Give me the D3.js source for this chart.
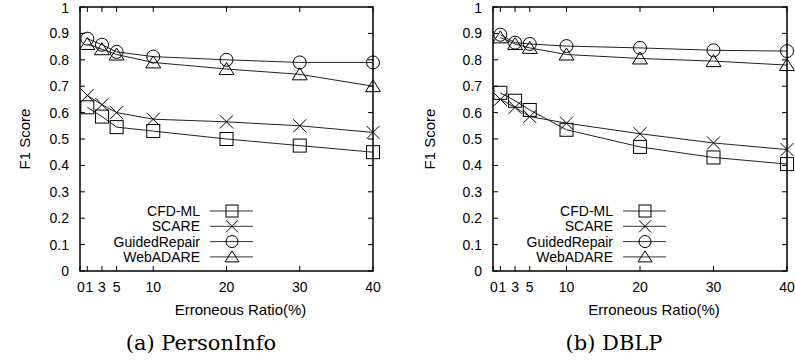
<!DOCTYPE html>
<html lang="en">
<head>
    <meta charset="UTF-8">
    <script src="https://d3js.org/d3.v7.min.js"></script>
    <title>F1 Score vs Erroneous Ratio</title>
    <style>
        body { margin: 0; background: #fff; }
        svg { display: block; font-family: "Liberation Sans", Arial, sans-serif; }
        .caption { font-family: "DejaVu Serif", "Liberation Serif", serif; }
    </style>
</head>
<body>
    <div id="chart"></div>

    <script type="text/javascript">
        // data
        const ratios = [1, 3, 5, 10, 20, 30, 40];
        const xTicks = [0, 1, 3, 5, 10, 20, 30, 40];
        const yTicks = [0, 0.1, 0.2, 0.3, 0.4, 0.5, 0.6, 0.7, 0.8, 0.9, 1];
        const seriesNames = ["CFD-ML", "SCARE", "GuidedRepair", "WebADARE"];
        const captions = ["(a) PersonInfo", "(b) DBLP"];

        const personCfdMl = [0.62, 0.585, 0.545, 0.53, 0.50, 0.475, 0.45];
        const personScare = [0.665, 0.63, 0.60, 0.575, 0.565, 0.55, 0.525];
        const personGuided = [0.88, 0.857, 0.83, 0.812, 0.80, 0.79, 0.79];
        const personWebAdare = [0.86, 0.84, 0.82, 0.79, 0.765, 0.745, 0.70];

        const dblpCfdMl = [0.675, 0.645, 0.61, 0.535, 0.47, 0.43, 0.405];
        const dblpScare = [0.65, 0.62, 0.585, 0.56, 0.52, 0.485, 0.46];
        const dblpGuided = [0.895, 0.865, 0.86, 0.852, 0.845, 0.836, 0.833];
        const dblpWebAdare = [0.885, 0.86, 0.845, 0.82, 0.805, 0.795, 0.78];

        const width = 795;
        const height = 362;

        const svg = d3.select("#chart")
            .append("svg")
            .attr("width", width)
            .attr("height", height);

        const panels = [
            { left: 80, right: 373, caption: captions[0], captionX: 201, yLabelX: 25,
              values: [personCfdMl, personScare, personGuided, personWebAdare] },
            { left: 493, right: 787, caption: captions[1], captionX: 614, yLabelX: 430,
              values: [dblpCfdMl, dblpScare, dblpGuided, dblpWebAdare] }
        ];
        const plotTop = 7;
        const plotBottom = 271;
        const markerSize = 13;
        const shapes = ["square", "cross", "circle", "triangle"];

        function drawMarker(g, shape, x, y, size) {
            const h = size / 2;
            if (shape === "square") {
                g.append("rect").attr("x", x - h).attr("y", y - h)
                    .attr("width", size).attr("height", size);
            } else if (shape === "circle") {
                g.append("circle").attr("cx", x).attr("cy", y).attr("r", h);
            } else if (shape === "triangle") {
                g.append("path").attr("d", `M${x},${y - h} L${x + h + 1},${y + h - 1} L${x - h - 1},${y + h - 1} Z`);
            } else {
                g.append("path").attr("d", `M${x - h},${y - h} L${x + h},${y + h} M${x - h},${y + h} L${x + h},${y - h}`);
            }
        }

        panels.forEach(p => {
            const x = d3.scaleLinear().domain([0, 40]).range([p.left, p.right]);
            const y = d3.scaleLinear().domain([0, 1]).range([plotBottom, plotTop]);
            const g = svg.append("g");

            // tick marks, inward on all four sides
            const ticks = g.append("g").attr("stroke", "#000").attr("stroke-width", 1);
            yTicks.forEach(t => {
                ticks.append("line").attr("x1", p.left).attr("x2", p.left + 5)
                    .attr("y1", y(t)).attr("y2", y(t));
                ticks.append("line").attr("x1", p.right).attr("x2", p.right - 5)
                    .attr("y1", y(t)).attr("y2", y(t));
            });
            xTicks.forEach(t => {
                ticks.append("line").attr("x1", x(t)).attr("x2", x(t))
                    .attr("y1", plotBottom).attr("y2", plotBottom - 5);
                ticks.append("line").attr("x1", x(t)).attr("x2", x(t))
                    .attr("y1", plotTop).attr("y2", plotTop + 5);
            });

            g.selectAll(".ylab")
                .data(yTicks)
                .enter()
                .append("text")
                .attr("x", p.left - 11)
                .attr("y", d => y(d) + (d === 1 ? 1 : 0))
                .attr("dy", "0.36em")
                .attr("text-anchor", "end")
                .style("font-size", "14px")
                .text(d => d3.format("~g")(d));

            g.selectAll(".xlab")
                .data(xTicks)
                .enter()
                .append("text")
                .attr("x", d => x(d) + (d === 0 ? 1 : d === 1 ? 2 : 0))
                .attr("y", 292)
                .attr("text-anchor", "middle")
                .style("font-size", "14px")
                .text(d => d);

            g.append("text")
                .attr("x", (p.left + p.right) / 2 + 14)
                .attr("y", 315)
                .attr("text-anchor", "middle")
                .style("font-size", "15px")
                .text("Erroneous Ratio(%)");

            g.append("text")
                .attr("transform", `translate(${p.yLabelX},${(plotTop + plotBottom) / 2}) rotate(-90)`)
                .attr("dy", "0.35em")
                .attr("text-anchor", "middle")
                .style("font-size", "15px")
                .text("F1 Score");

            g.append("text")
                .attr("class", "caption")
                .attr("x", p.captionX)
                .attr("y", 350)
                .attr("text-anchor", "middle")
                .style("font-size", "21px")
                .text(p.caption);

            // series
            const line = d3.line().x((d, i) => x(ratios[i])).y(d => y(d));
            p.values.forEach((vals, si) => {
                g.append("path")
                    .attr("d", line(vals))
                    .attr("fill", "none")
                    .attr("stroke", "#222")
                    .attr("stroke-width", 1);
                const mg = g.append("g").attr("fill", "none").attr("stroke", "#000").attr("stroke-width", 1);
                vals.forEach((v, i) => drawMarker(mg, shapes[si], x(ratios[i]), y(v), markerSize));
            });

            // legend
            const textRight = p.left + 120;
            seriesNames.forEach((name, si) => {
                const ly = 211 + si * 15.3;
                g.append("text")
                    .attr("x", textRight)
                    .attr("y", ly)
                    .attr("dy", "0.36em")
                    .attr("text-anchor", "end")
                    .style("font-size", "14px")
                    .text(name);
                g.append("line")
                    .attr("x1", textRight + 10).attr("x2", textRight + 53)
                    .attr("y1", ly).attr("y2", ly)
                    .attr("stroke", "#333").attr("stroke-width", 1);
                const mg = g.append("g").attr("fill", "none").attr("stroke", "#000").attr("stroke-width", 1);
                drawMarker(mg, shapes[si], textRight + 32, ly, 12);
            });

            // frame
            g.append("rect")
                .attr("x", p.left).attr("y", plotTop)
                .attr("width", p.right - p.left).attr("height", plotBottom - plotTop)
                .attr("fill", "none")
                .attr("stroke", "#000")
                .attr("stroke-width", 1.5);
        });
    </script>
</body>
</html>
